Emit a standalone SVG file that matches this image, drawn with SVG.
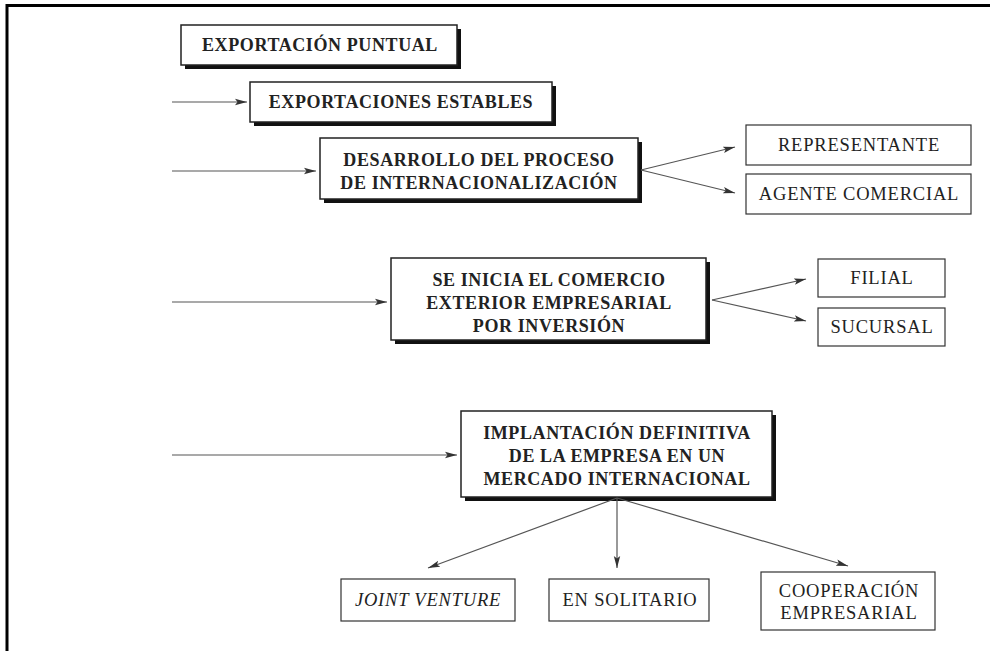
<svg xmlns="http://www.w3.org/2000/svg" width="990" height="651" viewBox="0 0 990 651">
  <style>
    .frame { stroke: #000; stroke-width: 3; fill: none; }
    .shadow { fill: #111; }
    .main { fill: #fff; stroke: #222; stroke-width: 1.5; }
    .sub { fill: #fff; stroke: #333; stroke-width: 1.2; }
    .tb { font-family: "Liberation Serif", "Times New Roman", serif; font-weight: bold; font-size: 18px; letter-spacing: 0.6px; fill: #222; text-anchor: middle; }
    .tr { font-family: "Liberation Serif", "Times New Roman", serif; font-size: 18.5px; letter-spacing: 0.8px; fill: #222; text-anchor: middle; }
    .it { font-style: italic; }
    .conn line { stroke: #555; stroke-width: 1.2; marker-end: url(#arrow); }
  </style>
  <defs>
    <marker id="arrow" viewBox="0 0 12 8" refX="12" refY="4" markerWidth="12" markerHeight="8" markerUnits="userSpaceOnUse" orient="auto">
      <path d="M0,0.8 L12,4 L0,7.2 L2.5,4 Z" fill="#333"/>
    </marker>
  </defs>
  <rect width="990" height="651" fill="#fff"/>
  <!-- page frame: top and left edges -->
  <path class="frame" d="M7,651 V5.5 H990"/>

  <g id="exportacion-puntual">
    <rect class="shadow" x="185" y="29" width="276" height="40"/>
    <rect class="main" x="181" y="25" width="276" height="40"/>
    <text class="tb" x="320" y="51">EXPORTACIÓN PUNTUAL</text>
  </g>

  <g id="exportaciones-estables">
    <rect class="shadow" x="254" y="86" width="302" height="40"/>
    <rect class="main" x="250" y="82" width="302" height="40"/>
    <text class="tb" x="401" y="108">EXPORTACIONES ESTABLES</text>
  </g>

  <g id="desarrollo">
    <rect class="shadow" x="324" y="142" width="318" height="61"/>
    <rect class="main" x="320" y="138" width="318" height="61"/>
    <text class="tb" x="479" y="166">DESARROLLO DEL PROCESO</text>
    <text class="tb" x="479" y="189">DE INTERNACIONALIZACIÓN</text>
  </g>

  <g id="representante">
    <rect class="sub" x="746" y="125" width="225" height="40"/>
    <text class="tr" x="859" y="151">REPRESENTANTE</text>
  </g>

  <g id="agente-comercial">
    <rect class="sub" x="746" y="174" width="225" height="40"/>
    <text class="tr" x="859" y="200">AGENTE COMERCIAL</text>
  </g>

  <g id="comercio-exterior">
    <rect class="shadow" x="395" y="262" width="315" height="82"/>
    <rect class="main" x="391" y="258" width="315" height="82"/>
    <text class="tb" x="549" y="286">SE INICIA EL COMERCIO</text>
    <text class="tb" x="549" y="309">EXTERIOR EMPRESARIAL</text>
    <text class="tb" x="549" y="332">POR INVERSIÓN</text>
  </g>

  <g id="filial">
    <rect class="sub" x="818" y="259" width="127" height="38"/>
    <text class="tr" x="882" y="284">FILIAL</text>
  </g>

  <g id="sucursal">
    <rect class="sub" x="818" y="308" width="127" height="38"/>
    <text class="tr" x="882" y="333">SUCURSAL</text>
  </g>

  <g id="implantacion">
    <rect class="shadow" x="465" y="415" width="311" height="86"/>
    <rect class="main" x="461" y="411" width="311" height="86"/>
    <text class="tb" x="617" y="439">IMPLANTACIÓN DEFINITIVA</text>
    <text class="tb" x="617" y="462">DE LA EMPRESA EN UN</text>
    <text class="tb" x="617" y="485">MERCADO INTERNACIONAL</text>
  </g>

  <g id="joint-venture">
    <rect class="sub" x="341" y="579" width="174" height="42"/>
    <text class="tr it" x="428" y="606">JOINT VENTURE</text>
  </g>

  <g id="en-solitario">
    <rect class="sub" x="549" y="579" width="160" height="42"/>
    <text class="tr" x="630" y="606">EN SOLITARIO</text>
  </g>

  <g id="cooperacion">
    <rect class="sub" x="761" y="572" width="174" height="58"/>
    <text class="tr" x="849" y="597">COOPERACIÓN</text>
    <text class="tr" x="849" y="619">EMPRESARIAL</text>
  </g>

  <g id="connectors" class="conn">
    <line x1="172" y1="102" x2="247" y2="102"/>
    <line x1="172" y1="171" x2="316" y2="171"/>
    <line x1="641" y1="170" x2="735" y2="147"/>
    <line x1="641" y1="170" x2="735" y2="193"/>
    <line x1="172" y1="302" x2="387" y2="302"/>
    <line x1="712" y1="300" x2="806" y2="279"/>
    <line x1="712" y1="300" x2="806" y2="321"/>
    <line x1="172" y1="455" x2="457" y2="455"/>
    <line x1="617" y1="498" x2="428" y2="568"/>
    <line x1="617" y1="498" x2="617" y2="568"/>
    <line x1="617" y1="498" x2="848" y2="566"/>
  </g>
</svg>
